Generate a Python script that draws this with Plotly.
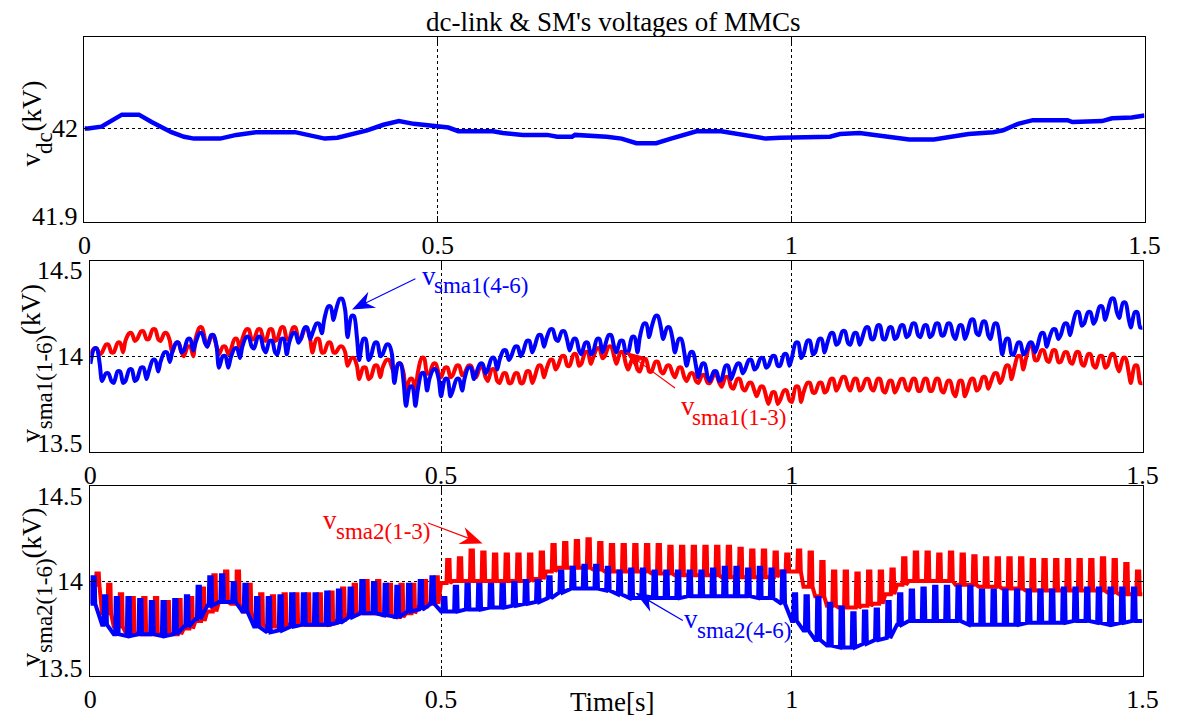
import math
import plotly.graph_objects as go

W, H = 1186, 725

# ---------------- data ----------------
x_tickvals = [0, 0.5, 1, 1.5]
x_ticktext = ["0", "0.5", "1", "1.5"]
vdc_ticks = [41.9, 42]
vdc_ticktext = ["41.9", "42"]
sm_ticks = [13.5, 14, 14.5]
sm_ticktext = ["13.5", "14", "14.5"]

# dc-link voltage (kV)
vdc_t = [0, 0.005, 0.024, 0.053, 0.077, 0.095, 0.123, 0.141, 0.155, 0.192,
         0.215, 0.243, 0.298, 0.321, 0.340, 0.358, 0.400, 0.423, 0.445, 0.466,
         0.487, 0.515, 0.529, 0.578, 0.592, 0.620, 0.655, 0.669, 0.690, 0.694,
         0.739, 0.760, 0.781, 0.809, 0.830, 0.852, 0.866, 0.901, 0.922, 0.943,
         0.964, 0.985, 1.055, 1.069, 1.097, 1.118, 1.146, 1.167, 1.202, 1.223,
         1.251, 1.286, 1.300, 1.321, 1.342, 1.391, 1.398, 1.440, 1.454, 1.482,
         1.500]
vdc_v = [42.000, 42.000, 42.002, 42.015, 42.015, 42.007, 41.996, 41.991, 41.989, 41.989,
         41.993, 41.996, 41.996, 41.992, 41.989, 41.990, 41.998, 42.004, 42.008, 42.005,
         42.003, 42.001, 41.997, 41.997, 41.995, 41.993, 41.993, 41.991, 41.991, 41.993,
         41.991, 41.989, 41.984, 41.984, 41.989, 41.994, 41.997, 41.997, 41.994, 41.992,
         41.989, 41.990, 41.991, 41.994, 41.995, 41.993, 41.990, 41.988, 41.988, 41.991,
         41.994, 41.996, 41.998, 42.005, 42.009, 42.009, 42.007, 42.008, 42.011, 42.012,
         42.014]

# SM voltages: per ripple cycle (60 Hz, 90 cycles) upper / lower values (kV)
ripple_freq = 60.0

sma1_13_hi = [14.04, 14.06, 14.07, 14.12, 14.13, 14.14, 14.12, 14.07, 14.05, 14.15,
              14.10, 14.05, 14.09, 14.14, 14.14, 14.14, 14.15, 14.15, 14.14, 14.09,
              14.07, 14.05, 13.99, 13.94, 13.95, 13.98, 13.96, 13.88, 13.99, 13.96,
              13.94, 13.95, 13.95, 13.94, 13.93, 13.91, 13.91, 13.92, 13.95, 13.98,
              14.00, 14.01, 14.02, 14.04, 14.05, 14.02, 13.98, 13.98, 13.97, 13.95,
              13.94, 13.91, 13.90, 13.90, 13.89, 13.88, 13.86, 13.84, 13.81, 13.82,
              13.84, 13.86, 13.86, 13.88, 13.89, 13.88, 13.88, 13.88, 13.87, 13.88,
              13.88, 13.88, 13.88, 13.87, 13.87, 13.88, 13.89, 13.91, 13.95, 14.00,
              14.05, 14.03, 14.03, 14.02, 14.02, 14.01, 14.00, 14.01, 13.99, 13.95]
sma1_13_lo = [14.01, 14.02, 14.02, 14.08, 14.09, 14.09, 14.08, 14.02, 14.00, 14.09,
              14.05, 14.01, 14.03, 14.09, 14.09, 14.08, 14.09, 14.09, 14.09, 14.02,
              14.02, 14.02, 13.95, 13.88, 13.89, 13.94, 13.91, 13.82, 13.91, 13.91,
              13.89, 13.90, 13.91, 13.89, 13.87, 13.86, 13.86, 13.86, 13.89, 13.93,
              13.95, 13.95, 13.96, 13.99, 14.00, 13.96, 13.93, 13.92, 13.92, 13.91,
              13.89, 13.87, 13.86, 13.86, 13.84, 13.83, 13.82, 13.79, 13.75, 13.77,
              13.76, 13.81, 13.81, 13.82, 13.84, 13.82, 13.83, 13.82, 13.81, 13.83,
              13.82, 13.82, 13.82, 13.81, 13.79, 13.82, 13.83, 13.86, 13.88, 13.93,
              13.98, 13.98, 13.97, 13.97, 13.96, 13.95, 13.94, 13.95, 13.92, 13.86]

sma1_46_hi = [14.04, 13.91, 13.92, 13.93, 13.94, 13.98, 14.02, 14.07, 14.09, 14.12,
              14.11, 14.00, 14.04, 14.10, 14.10, 14.08, 14.09, 14.12, 14.15, 14.17,
              14.26, 14.30, 14.21, 14.09, 14.07, 14.06, 13.96, 13.84, 13.91, 13.93,
              13.88, 13.88, 13.94, 13.96, 13.99, 14.03, 14.05, 14.08, 14.11, 14.14,
              14.13, 14.09, 14.07, 14.09, 14.11, 14.08, 14.10, 14.17, 14.21, 14.15,
              14.09, 14.02, 13.96, 13.92, 13.95, 13.96, 13.98, 13.99, 14.00, 14.01,
              14.07, 14.08, 14.09, 14.12, 14.13, 14.12, 14.15, 14.16, 14.15, 14.16,
              14.17, 14.16, 14.17, 14.17, 14.16, 14.19, 14.18, 14.17, 14.09, 14.07,
              14.07, 14.12, 14.14, 14.17, 14.23, 14.23, 14.26, 14.30, 14.28, 14.23]
sma1_46_lo = [13.96, 13.87, 13.86, 13.87, 13.88, 13.92, 13.97, 14.02, 14.03, 14.07,
              14.05, 13.94, 13.99, 14.05, 14.04, 14.02, 14.01, 14.07, 14.09, 14.12,
              14.19, 14.24, 14.10, 13.98, 14.00, 14.01, 13.86, 13.74, 13.82, 13.88,
              13.79, 13.82, 13.88, 13.91, 13.93, 13.98, 14.00, 14.02, 14.05, 14.09,
              14.08, 14.03, 14.01, 14.02, 14.05, 14.02, 14.02, 14.10, 14.15, 14.09,
              14.02, 13.95, 13.89, 13.87, 13.88, 13.91, 13.93, 13.94, 13.95, 13.95,
              13.99, 14.01, 14.02, 14.06, 14.07, 14.06, 14.09, 14.09, 14.09, 14.10,
              14.11, 14.10, 14.11, 14.11, 14.09, 14.12, 14.11, 14.09, 14.01, 14.01,
              14.02, 14.05, 14.09, 14.11, 14.16, 14.17, 14.19, 14.23, 14.20, 14.15]

sma2_13_hi = [14.04, 13.98, 13.93, 13.91, 13.91, 13.91, 13.89, 13.90, 13.91, 13.96,
              14.03, 14.05, 14.05, 13.98, 13.93, 13.92, 13.93, 13.93, 13.93, 13.93,
              13.94, 13.96, 13.98, 14.00, 14.00, 13.98, 13.98, 13.98, 14.00, 14.02,
              14.11, 14.12, 14.16, 14.15, 14.14, 14.14, 14.14, 14.14, 14.15, 14.19,
              14.20, 14.21, 14.22, 14.20, 14.19, 14.19, 14.19, 14.19, 14.19, 14.18,
              14.18, 14.18, 14.18, 14.18, 14.18, 14.17, 14.16, 14.16, 14.15, 14.14,
              14.16, 14.15, 14.10, 14.05, 14.05, 14.04, 14.05, 14.05, 14.06, 14.12,
              14.15, 14.15, 14.14, 14.15, 14.14, 14.13, 14.12, 14.12, 14.12, 14.12,
              14.11, 14.11, 14.11, 14.11, 14.11, 14.11, 14.12, 14.11, 14.09, 14.05]
sma2_13_lo = [13.98, 13.83, 13.76, 13.73, 13.72, 13.72, 13.72, 13.72, 13.75, 13.79,
              13.84, 13.89, 13.88, 13.84, 13.77, 13.76, 13.76, 13.77, 13.77, 13.77,
              13.77, 13.79, 13.82, 13.83, 13.83, 13.82, 13.81, 13.83, 13.86, 13.88,
              13.99, 14.00, 14.00, 14.00, 14.00, 14.00, 14.00, 14.00, 14.01, 14.05,
              14.07, 14.07, 14.07, 14.06, 14.05, 14.05, 14.05, 14.05, 14.04, 14.04,
              14.03, 14.03, 14.03, 14.03, 14.02, 14.02, 14.02, 14.02, 14.02, 14.05,
              14.05, 13.97, 13.92, 13.87, 13.86, 13.86, 13.87, 13.88, 13.93, 13.98,
              14.00, 14.00, 14.00, 14.00, 13.98, 13.98, 13.97, 13.97, 13.96, 13.96,
              13.95, 13.95, 13.95, 13.95, 13.95, 13.95, 13.95, 13.94, 13.93, 13.93]

sma2_46_hi = [14.02, 13.92, 13.91, 13.91, 13.90, 13.89, 13.89, 13.90, 13.92, 13.97,
              14.02, 14.03, 13.99, 13.98, 13.91, 13.91, 13.92, 13.93, 13.93, 13.93,
              13.94, 13.95, 13.96, 14.00, 13.99, 13.98, 13.97, 13.98, 14.00, 14.02,
              13.91, 13.97, 13.98, 13.98, 13.98, 13.98, 13.99, 14.00, 14.00, 14.02,
              14.05, 14.07, 14.08, 14.08, 14.07, 14.05, 14.06, 14.06, 14.05, 14.05,
              14.05, 14.05, 14.05, 14.06, 14.07, 14.07, 14.06, 14.07, 14.06, 14.05,
              13.93, 13.92, 13.91, 13.88, 13.86, 13.83, 13.84, 13.85, 13.89, 13.93,
              13.95, 13.96, 13.97, 13.97, 13.97, 13.97, 13.95, 13.95, 13.95, 13.95,
              13.95, 13.95, 13.95, 13.96, 13.96, 13.96, 13.96, 13.96, 13.96, 13.96]
sma2_46_lo = [13.88, 13.77, 13.72, 13.71, 13.72, 13.72, 13.71, 13.72, 13.76, 13.80,
              13.87, 13.89, 13.89, 13.84, 13.76, 13.73, 13.74, 13.76, 13.77, 13.77,
              13.77, 13.78, 13.81, 13.83, 13.83, 13.82, 13.81, 13.84, 13.85, 13.88,
              13.84, 13.84, 13.85, 13.85, 13.86, 13.86, 13.87, 13.88, 13.89, 13.91,
              13.94, 13.96, 13.96, 13.96, 13.95, 13.93, 13.91, 13.91, 13.91, 13.91,
              13.91, 13.92, 13.92, 13.92, 13.92, 13.92, 13.92, 13.91, 13.91, 13.88,
              13.79, 13.74, 13.69, 13.66, 13.65, 13.65, 13.67, 13.69, 13.70, 13.77,
              13.79, 13.79, 13.79, 13.79, 13.79, 13.77, 13.77, 13.77, 13.77, 13.77,
              13.78, 13.78, 13.78, 13.78, 13.79, 13.79, 13.78, 13.77, 13.78, 13.79]

# ---------------- styling ----------------
FONT = "Times New Roman, Liberation Serif, serif"
RED = "#ff0000"
BLUE = "#0000ff"

# waveform shape inside one ripple cycle (fraction of period, which level)
shape_sm1 = [(0.0, "lo"), (0.33, "hi"), (0.55, "hi"), (0.8, "lo")]
shape_sm2_red = [(0.0, "lo"), (0.47, "lo"), (0.52, "hi"), (0.72, "hi"), (0.77, "lo")]
shape_sm2_blue = [(0.0, "lo"), (0.12, "lo"), (0.17, "hi"), (0.37, "hi"), (0.42, "lo")]


def ripple(lo, hi, shape):
    period = 1.0 / ripple_freq
    xs, ys = [], []
    for k, (l, h) in enumerate(zip(lo, hi)):
        for frac, level in shape:
            xs.append((k + frac) * period)
            ys.append(h if level == "hi" else l)
    xs.append(len(lo) * period)
    ys.append(lo[-1])
    return xs, ys


def px_x(p):
    return p / W


def px_y(p):
    return 1 - p / H


fig = go.Figure()

fig.add_trace(go.Scatter(x=vdc_t, y=vdc_v, mode="lines", xaxis="x", yaxis="y",
                         line=dict(color=BLUE, width=4.5), showlegend=False))

xs, ys = ripple(sma1_13_lo, sma1_13_hi, shape_sm1)
fig.add_trace(go.Scatter(x=xs, y=ys, mode="lines", xaxis="x2", yaxis="y2",
                         line=dict(color=RED, width=4, shape="spline", smoothing=0.8),
                         showlegend=False))
xs, ys = ripple(sma1_46_lo, sma1_46_hi, shape_sm1)
fig.add_trace(go.Scatter(x=xs, y=ys, mode="lines", xaxis="x2", yaxis="y2",
                         line=dict(color=BLUE, width=4, shape="spline", smoothing=0.8),
                         showlegend=False))

xs, ys = ripple(sma2_13_lo, sma2_13_hi, shape_sm2_red)
fig.add_trace(go.Scatter(x=xs, y=ys, mode="lines", xaxis="x3", yaxis="y3",
                         line=dict(color=RED, width=4), showlegend=False))
xs, ys = ripple(sma2_46_lo, sma2_46_hi, shape_sm2_blue)
fig.add_trace(go.Scatter(x=xs, y=ys, mode="lines", xaxis="x3", yaxis="y3",
                         line=dict(color=BLUE, width=4), showlegend=False))

tickfont = dict(family=FONT, size=26, color="black")


def xaxis(domain, anchor):
    return dict(domain=domain, anchor=anchor, range=[0, 1.5],
                tickmode="array", tickvals=x_tickvals, ticktext=x_ticktext,
                showline=True, linecolor="black", linewidth=1, mirror="ticks",
                ticks="inside", ticklen=6, tickcolor="black",
                showgrid=True, gridcolor="black", griddash="dot", gridwidth=1,
                zeroline=False, tickfont=tickfont, fixedrange=True)


def yaxis(domain, anchor, rng, tv):
    return dict(domain=domain, anchor=anchor, range=rng,
                tickmode="array", tickvals=tv, showticklabels=False,
                showline=True, linecolor="black", linewidth=1, mirror="ticks",
                ticks="inside", ticklen=6, tickcolor="black",
                showgrid=True, gridcolor="black", griddash="dot", gridwidth=1,
                zeroline=False, fixedrange=True)


fig.update_layout(
    width=W, height=H,
    margin=dict(l=0, r=0, t=0, b=0),
    paper_bgcolor="white", plot_bgcolor="white",
    font=dict(family=FONT, color="black", size=26),
    xaxis=xaxis([px_x(79), px_x(1160)], "y"),
    yaxis=yaxis([px_y(221.5), px_y(37)], "x", [41.899, 42.0993], vdc_ticks),
    xaxis2=xaxis([px_x(85), px_x(1158)], "y2"),
    yaxis2=yaxis([px_y(451.7), px_y(260.7)], "x2", [13.5, 14.5], sm_ticks),
    xaxis3=xaxis([px_x(85), px_x(1158)], "y3"),
    yaxis3=yaxis([px_y(676), px_y(486)], "x3", [13.5, 14.5], sm_ticks),
)

ann = []


def text_ann(txt, xp, yp, size, color="black", xanchor="center", angle=0):
    ann.append(dict(text=txt, xref="paper", yref="paper", x=px_x(xp), y=px_y(yp),
                    xanchor=xanchor, yanchor="middle", textangle=angle,
                    showarrow=False, font=dict(family=FONT, size=size, color=color)))


# title and x label
text_ann("dc-link & SM's voltages of MMCs", 618, 22, 27)
text_ann("Time[s]", 617, 702, 27)

# y-axis titles (rotated), main symbol, subscript and unit as separate texts
MAIN, SUBSZ = 27, 23
ytitles = [("dc", 160, 142.7, 106),
           ("sma1(1-6)", 436, 382, 309.5),
           ("sma2(1-6)", 660, 605.7, 533)]
for sub, yv, ys_, yk in ytitles:
    text_ann("v", 24, yv, MAIN, angle=-90)
    text_ann(sub, 38, ys_, SUBSZ, angle=-90)
    text_ann("(kV)", 25, yk, MAIN, angle=-90)

# y tick labels
for val, txt in zip(vdc_ticks, vdc_ticktext):
    ann.append(dict(text=txt, xref="paper", yref="y", x=px_x(74), y=val,
                    xanchor="right", yanchor="middle", showarrow=False,
                    yshift=4 if val == 41.9 else 0, font=tickfont))
for yref in ["y2", "y3"]:
    for val, txt in zip(sm_ticks, sm_ticktext):
        shift = {13.5: 8, 14: 0, 14.5: -10}[val]
        ann.append(dict(text=txt, xref="paper", yref=yref, x=px_x(80), y=val,
                        xanchor="right", yanchor="middle", showarrow=False,
                        yshift=shift, font=tickfont))

# curve labels: (v position, subscript position) in pixels
curve_labels = [("sma1(4-6)", BLUE, 421, 275.5, 433, 286),
                ("sma1(1-3)", RED, 685, 405.5, 697, 418),
                ("sma2(1-3)", RED, 320, 519.5, 333, 531),
                ("sma2(4-6)", BLUE, 688, 618.5, 702, 630)]
for sub, col, vx, vy, sx, sy in curve_labels:
    text_ann("v", vx, vy, MAIN, color=col, xanchor="left")
    text_ann(sub, sx, sy, SUBSZ, color=col, xanchor="left")

fig.update_layout(annotations=ann)

# arrows: tip in data coordinates, tail offset in screen pixels
arrows = [("x2", "y2", 0.375, 14.248, 62, -30, BLUE),
          ("x2", "y2", 0.765, 14.017, 48, 35, RED),
          ("x3", "y3", 0.557, 14.200, -53, -20, RED),
          ("x3", "y3", 0.779, 13.934, 46, 27, BLUE)]
HEAD_L, HEAD_W, NOTCH = 19.0, 7.5, 6.0
shapes = []
for xr, yr, xv, yv, dx, dy, col in arrows:
    ln = math.hypot(dx, dy)
    ux, uy = -dx / ln, -dy / ln          # tail -> tip direction (screen, y down)
    nx, ny = -uy, ux
    b1 = (-ux * HEAD_L + nx * HEAD_W, -uy * HEAD_L + ny * HEAD_W)
    b2 = (-ux * HEAD_L - nx * HEAD_W, -uy * HEAD_L - ny * HEAD_W)
    nt = (-ux * (HEAD_L - NOTCH), -uy * (HEAD_L - NOTCH))

    def P(p):
        return f"{p[0]:.2f},{-p[1]:.2f}"

    path = (f"M{P((dx, dy))} L{P(nt)} "
            f"M0,0 L{P(b1)} L{P(nt)} L{P(b2)} Z")
    shapes.append(dict(type="path", xref=xr, yref=yr, xsizemode="pixel",
                       ysizemode="pixel", xanchor=xv, yanchor=yv, path=path,
                       line=dict(color=col, width=1.2), fillcolor=col, layer="above"))
fig.update_layout(shapes=shapes)

fig.write_html("out.html")
